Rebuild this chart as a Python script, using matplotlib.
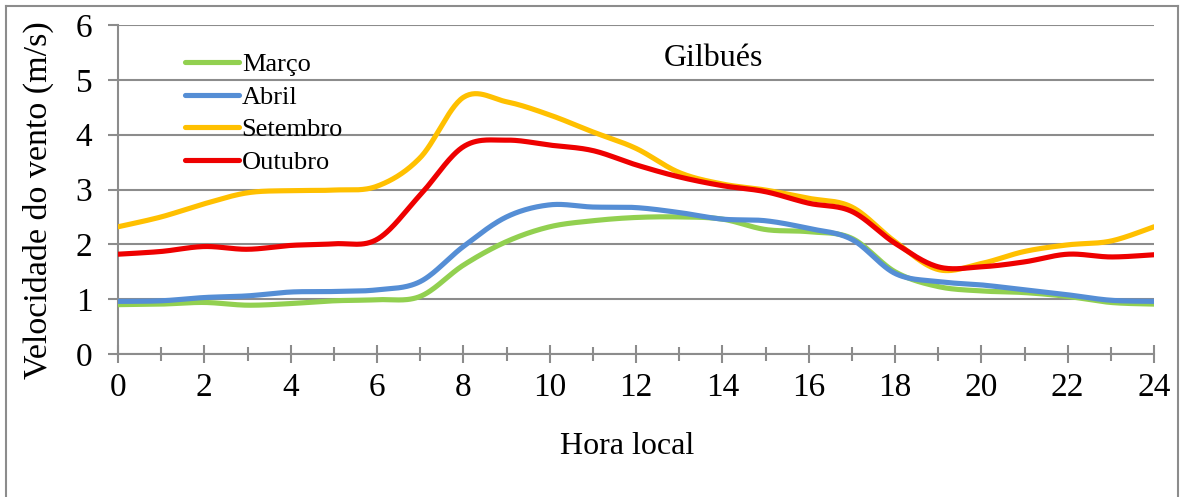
import numpy as np
import matplotlib
matplotlib.use("Agg")
import matplotlib.pyplot as plt
from matplotlib.lines import Line2D

hours = list(range(25))
marco = [0.90, 0.91, 0.94, 0.89, 0.92, 0.97, 0.99, 1.05, 1.62, 2.05, 2.32, 2.43, 2.49, 2.50,
         2.46, 2.27, 2.23, 2.11, 1.50, 1.23, 1.15, 1.12, 1.05, 0.94, 0.91]
abril = [0.96, 0.97, 1.03, 1.06, 1.13, 1.14, 1.17, 1.32, 1.96, 2.50, 2.72, 2.68, 2.67, 2.58,
         2.46, 2.43, 2.29, 2.09, 1.47, 1.32, 1.26, 1.17, 1.08, 0.98, 0.96]
setembro = [2.32, 2.50, 2.74, 2.94, 2.98, 2.99, 3.06, 3.58, 4.68, 4.60, 4.36, 4.05, 3.75, 3.31,
            3.10, 2.99, 2.84, 2.68, 2.05, 1.54, 1.65, 1.87, 1.99, 2.06, 2.32]
outubro = [1.82, 1.87, 1.96, 1.91, 1.98, 2.01, 2.09, 2.90, 3.78, 3.90, 3.81, 3.71, 3.45, 3.23,
           3.07, 2.96, 2.75, 2.60, 2.02, 1.59, 1.59, 1.68, 1.82, 1.77, 1.81]
series_names = ["Março", "Abril", "Setembro", "Outubro"]
series_colors = ["#92D050", "#558ED5", "#FFC000", "#EE0000"]
yticks = [0, 1, 2, 3, 4, 5, 6]
xticks_major = list(range(0, 25, 2))


def smooth(x, y, n=30):
    x = np.asarray(x, float)
    y = np.asarray(y, float)
    P = np.column_stack([x, y])
    m = len(P)
    out = []
    for i in range(m - 1):
        p0 = P[i - 1] if i > 0 else P[i]
        p1 = P[i]
        p2 = P[i + 1]
        p3 = P[i + 2] if i + 2 < m else P[i + 1]
        c1 = p1 + (p2 - p0) / 6.0
        c2 = p2 - (p3 - p1) / 6.0
        t = np.linspace(0, 1, n, endpoint=(i == m - 2))[:, None]
        b = ((1 - t) ** 3) * p1 + 3 * ((1 - t) ** 2) * t * c1 + 3 * (1 - t) * t ** 2 * c2 + t ** 3 * p2
        out.append(b)
    out = np.vstack(out)
    return out[:, 0], out[:, 1]


plt.rcParams['font.family'] = ['Liberation Serif', 'DejaVu Serif']
fig = plt.figure(figsize=(11.82, 4.97), dpi=100)
W, H = 1182, 497
L, R, T, B = 118, 1154, 25, 354
ax = fig.add_axes([L / W, 1 - B / H, (R - L) / W, (B - T) / H])

grid_c = "#8C8C8C"
for name, vals, col in zip(series_names, [marco, abril, setembro, outubro], series_colors):
    xs, ys = smooth(hours, vals)
    ax.plot(xs, ys, color=col, lw=3.7, label=name, solid_capstyle='round', zorder=3)

ax.set_xlim(0, 24)
ax.set_ylim(0, 6)
ax.set_yticks(yticks)
ax.set_xticks(xticks_major)
ax.set_xticks(hours, minor=True)
ax.yaxis.grid(True, color=grid_c, lw=1.5)
ax.set_axisbelow(True)
for s in ['top', 'right']:
    ax.spines[s].set_visible(False)
for s in ['left', 'bottom']:
    ax.spines[s].set_color(grid_c)
    ax.spines[s].set_linewidth(1.5)
ax.tick_params(axis='y', direction='out', length=7.5, width=1.5, color=grid_c,
               labelsize=24, pad=11)
ax.tick_params(axis='x', which='major', direction='inout', length=13, width=1.5, color=grid_c,
               labelsize=24, pad=7)
ax.tick_params(axis='x', which='minor', direction='inout', length=9.5, width=1.5, color=grid_c)

leg = ax.legend(loc='upper left', bbox_to_anchor=((185 - L) / (R - L), (B - 53) / (B - T)),
                frameon=False, fontsize=19, handlelength=2.05, handletextpad=0.1,
                labelspacing=0.34, borderpad=0, borderaxespad=0)

ax.text(13.8, 5.38, "Gilbués", fontsize=23, ha='center', va='center')

fig.text(38 / W, 1 - 200 / H, "Velocidade do vento (m/s)", rotation=90, fontsize=24.5,
         ha='center', va='center')
fig.text(627 / W, 1 - 446 / H, "Hora local", fontsize=23, ha='center', va='center')

fig.add_artist(Line2D([6 / W, 6 / W], [0, 1 - 6 / H], transform=fig.transFigure, color=grid_c, lw=1.5))
fig.add_artist(Line2D([6 / W, 1178 / W], [1 - 6 / H, 1 - 6 / H], transform=fig.transFigure, color=grid_c, lw=1.5))
fig.add_artist(Line2D([1178 / W, 1178 / W], [0, 1 - 6 / H], transform=fig.transFigure, color=grid_c, lw=1.5))

fig.savefig("out.png", dpi=100)
